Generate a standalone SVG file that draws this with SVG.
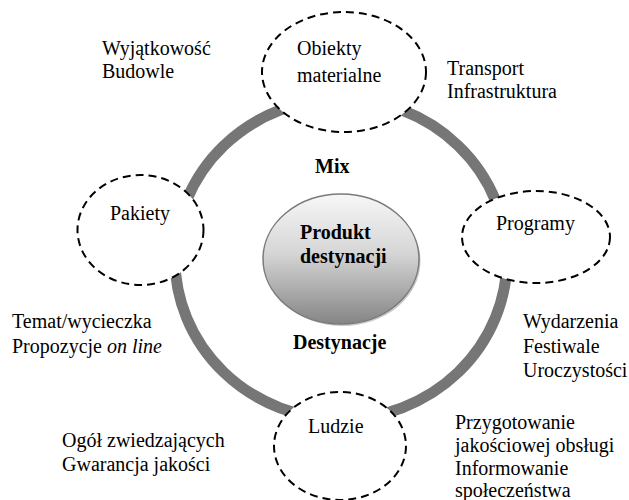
<svg xmlns="http://www.w3.org/2000/svg" width="629" height="500" viewBox="0 0 629 500">
<defs>
<linearGradient id="g" x1="0" y1="0" x2="0" y2="1">
<stop offset="0" stop-color="#f7f7f7"/>
<stop offset="0.45" stop-color="#d6d6d6"/>
<stop offset="1" stop-color="#858585"/>
</linearGradient>
<style>
.t{font-family:"Liberation Serif","Times New Roman",serif;font-size:20px;fill:#000}
.b{font-weight:bold}
.n{fill:#fff;stroke:#000;stroke-width:2;stroke-dasharray:8 5}
</style>
</defs>
<rect width="629" height="500" fill="#fff"/>
<g id="connectors">
<ellipse cx="341" cy="259" rx="166" ry="160" fill="none" stroke="#767676" stroke-width="11"/>
</g>
<g id="center">
<ellipse cx="342.5" cy="261" rx="78" ry="65" fill="#c8c8c8"/>
<ellipse cx="341" cy="259" rx="78" ry="65" fill="url(#g)" stroke="#7a7a7a" stroke-width="1.5"/>
<text class="t b" x="300" y="239">Produkt</text>
<text class="t b" x="300" y="263">destynacji</text>
</g>
<g id="obiekty">
<ellipse class="n" cx="344" cy="72" rx="82" ry="60"/>
<text class="t" x="297" y="55">Obiekty</text>
<text class="t" x="297" y="82">materialne</text>
</g>
<g id="programy">
<ellipse class="n" cx="536" cy="237" rx="74" ry="46"/>
<text class="t" x="496" y="230">Programy</text>
</g>
<g id="ludzie">
<ellipse class="n" cx="340" cy="446" rx="66" ry="54"/>
<text class="t" x="308" y="433">Ludzie</text>
</g>
<g id="pakiety">
<ellipse class="n" cx="140.5" cy="230" rx="63" ry="55"/>
<text class="t" x="140" y="220" text-anchor="middle">Pakiety</text>
</g>
<g id="labels">
<text class="t b" x="315" y="173">Mix</text>
<text class="t b" x="293" y="349">Destynacje</text>
<text class="t" x="102" y="55">Wyjątkowość</text>
<text class="t" x="102" y="78">Budowle</text>
<text class="t" x="447" y="75">Transport</text>
<text class="t" x="447" y="98">Infrastruktura</text>
<text class="t" x="523" y="328">Wydarzenia</text>
<text class="t" x="523" y="353">Festiwale</text>
<text class="t" x="523" y="377">Uroczystości</text>
<text class="t" x="455" y="429">Przygotowanie</text>
<text class="t" x="455" y="452">jakościowej obsługi</text>
<text class="t" x="455" y="475">Informowanie</text>
<text class="t" x="455" y="497">społeczeństwa</text>
<text class="t" x="12" y="328">Temat/wycieczka</text>
<text class="t" x="12" y="353">Propozycje <tspan font-style="italic">on line</tspan></text>
<text class="t" x="62" y="447">Ogół zwiedzających</text>
<text class="t" x="62" y="471">Gwarancja jakości</text>
</g>
</svg>
